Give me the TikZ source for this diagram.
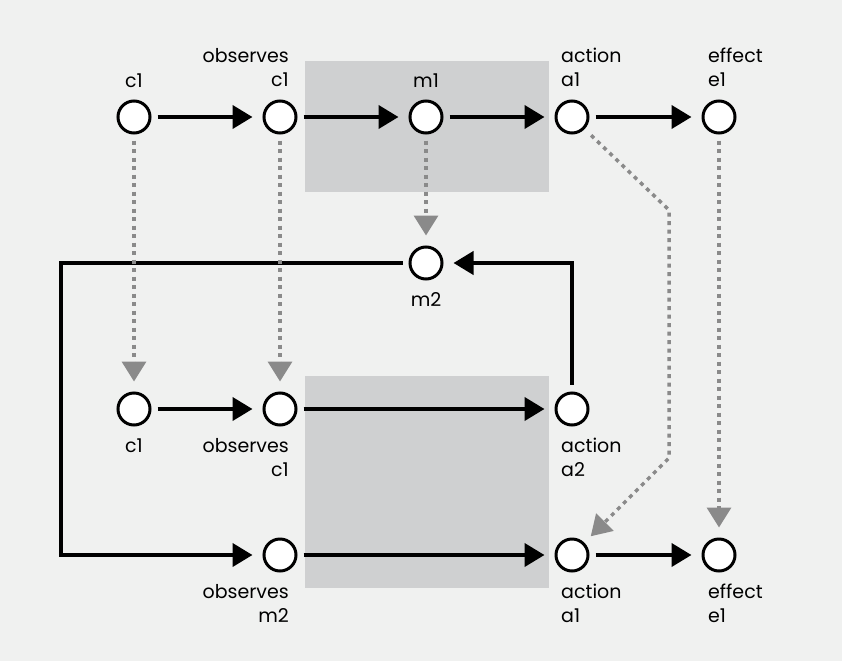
\documentclass[tikz,border=0pt]{standalone}
\usepackage{fontspec}
\setmainfont{Poppins}
\usetikzlibrary{arrows.meta}
\definecolor{bg}{HTML}{F0F1F0}
\definecolor{panel}{HTML}{CFD0D1}
\definecolor{dotgray}{HTML}{8A8A8A}
\begin{document}
\begin{tikzpicture}[x=1pt,y=-1pt,
    state/.style={circle,draw=black,fill=white,line width=3pt,minimum size=32pt,inner sep=0pt},
    flow/.style={line width=4pt,-{Triangle[length=20pt,width=23pt]},shorten <=6pt,shorten >=10pt},
    link/.style={dotgray,line width=3.5pt,dash pattern=on 4pt off 4.5pt,-{Triangle[length=20pt,width=24pt]},shorten <=6pt,shorten >=10pt},
    lbl/.style={inner sep=0pt,font=\fontsize{19}{24}\selectfont}]
    % canvas and the two grey panels
    \fill[bg] (0,0) rectangle (842,661);
    \useasboundingbox (0,0) rectangle (842,661);
    \fill[panel] (305,61) rectangle (549,192);
    \fill[panel] (305,376) rectangle (549,588);
    % first row
    \node[state] (c1a)  at (134,117) {};
    \node[state] (oc1a) at (280,117) {};
    \node[state] (m1)   at (426,117) {};
    \node[state] (a1a)  at (572,117) {};
    \node[state] (e1a)  at (719,117) {};
    % memory
    \node[state] (m2)   at (426,263) {};
    % second row
    \node[state] (c1b)  at (134,409) {};
    \node[state] (oc1b) at (280,409) {};
    \node[state] (a2)   at (572,409) {};
    % third row
    \node[state] (om2)  at (280,555) {};
    \node[state] (a1c)  at (572,555) {};
    \node[state] (e1c)  at (719,555) {};
    % bends
    \coordinate (bendA) at (669,210);
    \coordinate (bendB) at (669,458);
    \coordinate (loop)  at (61,263);
    % labels (base = last line)
    \node[lbl,anchor=base] (lc1a) at (134,87) {c1};
    \node[lbl,align=right,anchor=base east] (loc1a) at (289,86) {observes\\c1};
    \node[lbl,anchor=base] (lm1) at (426,87) {m1};
    \node[lbl,align=left,anchor=base west] (la1a) at (561,86) {action\\a1};
    \node[lbl,align=left,anchor=base west] (le1a) at (708,86) {effect\\e1};
    \node[lbl,anchor=base] (lm2) at (426,306) {m2};
    \node[lbl,anchor=base] (lc1b) at (134,452) {c1};
    \node[lbl,align=right,anchor=base east] (loc1b) at (289,476) {observes\\c1};
    \node[lbl,align=left,anchor=base west] (la2) at (561,476) {action\\a2};
    \node[lbl,align=right,anchor=base east] (lom2) at (289,622) {observes\\m2};
    \node[lbl,align=left,anchor=base west] (la1c) at (561,622) {action\\a1};
    \node[lbl,align=left,anchor=base west] (le1c) at (708,622) {effect\\e1};
    % solid arrows
    \draw[flow] (c1a) -- (oc1a);
    \draw[flow] (oc1a) -- (m1);
    \draw[flow] (m1) -- (a1a);
    \draw[flow] (a1a) -- (e1a);
    \draw[flow] (c1b) -- (oc1b);
    \draw[flow] (oc1b) -- (a2);
    \draw[flow] (om2) -- (a1c);
    \draw[flow] (a1c) -- (e1c);
    \draw[flow,shorten <=7pt] (a2) |- (m2);
    \draw[flow] (m2) -- (loop) |- (om2);
    % dotted links
    \draw[link] (c1a) -- (c1b);
    \draw[link] (oc1a) -- (oc1b);
    \draw[link] (m1) -- (m2);
    \draw[link] (e1a) -- (e1c);
    \draw[link,shorten <=9pt,shorten >=9pt] (a1a) -- (bendA) -- (bendB) -- (a1c);
\end{tikzpicture}
\end{document}
